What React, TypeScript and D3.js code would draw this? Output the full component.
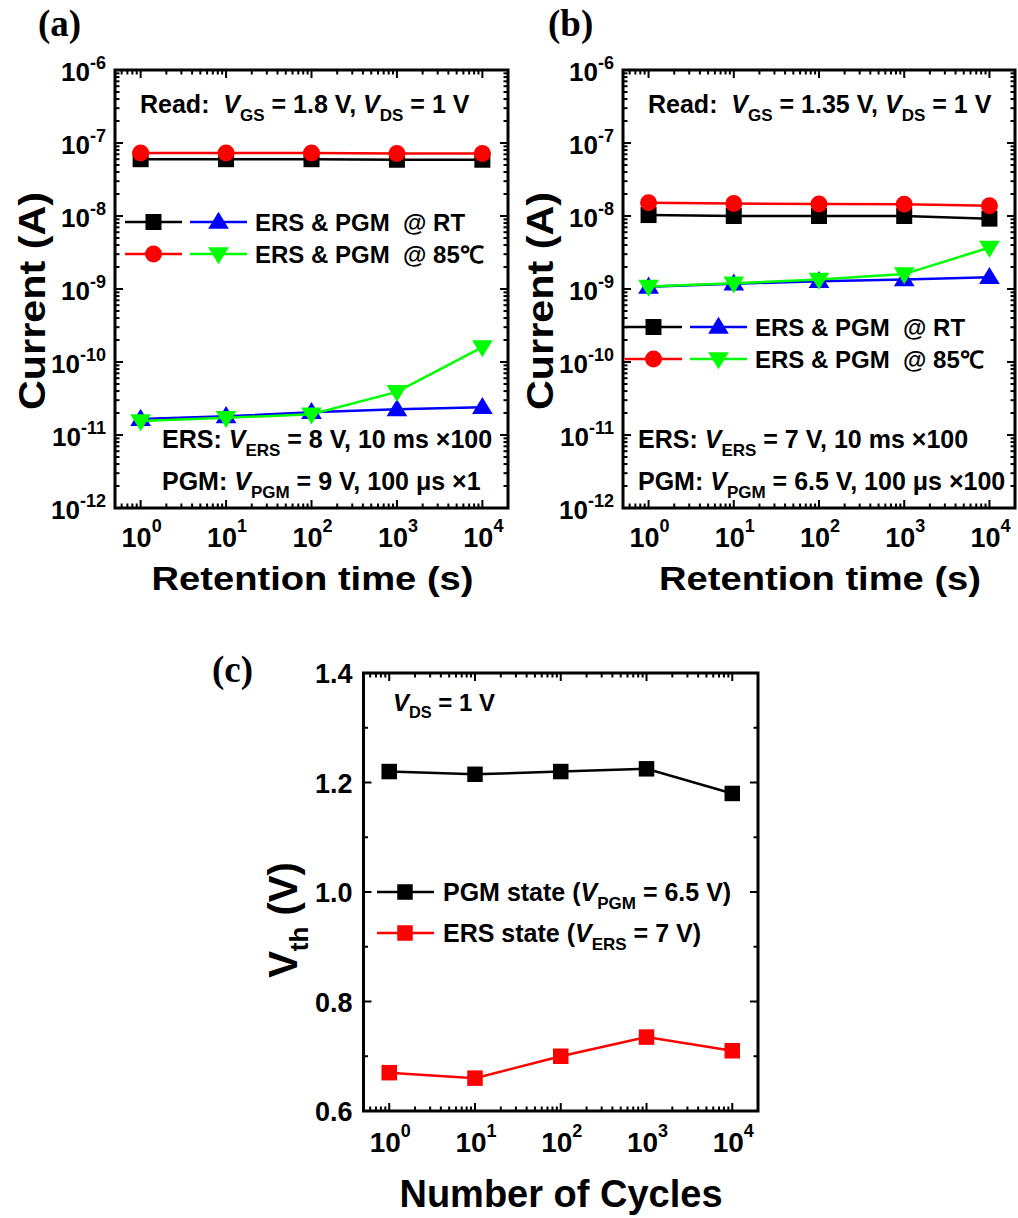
import React from 'react';
import * as d3 from 'd3';

// ---------- data ----------
const retentionTimes = [1, 10, 100, 1000, 10000];
const cycleCounts = [1, 10, 100, 1000, 10000];

const aPgmRT = [6.0e-8, 6.0e-8, 6.0e-8, 5.9e-8, 5.9e-8];
const aPgm85 = [7.3e-8, 7.3e-8, 7.3e-8, 7.2e-8, 7.2e-8];
const aErsRT = [1.65e-11, 1.8e-11, 2.05e-11, 2.25e-11, 2.4e-11];
const aErs85 = [1.55e-11, 1.72e-11, 1.92e-11, 3.9e-11, 1.6e-10];

const bPgmRT = [1.03e-8, 1.0e-8, 1.0e-8, 1.0e-8, 9.2e-9];
const bPgm85 = [1.52e-8, 1.48e-8, 1.46e-8, 1.45e-8, 1.38e-8];
const bErsRT = [1.07e-9, 1.18e-9, 1.28e-9, 1.35e-9, 1.45e-9];
const bErs85 = [1.08e-9, 1.2e-9, 1.35e-9, 1.6e-9, 3.7e-9];

const cPgmVth = [1.22, 1.215, 1.22, 1.225, 1.18];
const cErsVth = [0.67, 0.66, 0.7, 0.735, 0.71];

const xTickExps = [0, 1, 2, 3, 4];
const currentTickExps = [-12, -11, -10, -9, -8, -7, -6];
const vthTicks = [0.6, 0.8, 1.0, 1.2, 1.4];
const vthMinorTicks = [0.7, 0.9, 1.1, 1.3];

const legendLabelRT = 'ERS & PGM  @ RT';
const legendLabel85 = 'ERS & PGM  @ 85\u2103';

const SANS = '"Liberation Sans", Arial, sans-serif';
const SERIF = '"Liberation Serif", "Times New Roman", serif';

type Kind = 'n' | 'i' | 'sub' | 'sup';
type Part = [string, Kind?];

function Rich(props: {
  x: number; y: number; parts: Part[]; size: number; anchor?: string;
  family?: string; transform?: string; textLength?: number; subSize?: number; subShift?: number; supShift?: number;
}) {
  const { x, y, parts, size, anchor = 'start', family = SANS, transform, textLength } = props;
  const subSize = props.subSize ?? size * 0.68;
  const subShift = props.subShift ?? size * 0.3;
  const supShift = props.supShift ?? size * 0.45;
  let shift = 0;
  const spans = parts.map(([t, k = 'n'], i) => {
    const target = k === 'sub' ? subShift : k === 'sup' ? -supShift : 0;
    const dy = target - shift;
    shift = target;
    return (
      <tspan key={i} dy={dy} fontSize={k === 'sub' || k === 'sup' ? subSize : size}
        fontStyle={k === 'i' ? 'italic' : 'normal'}>{t}</tspan>
    );
  });
  return (
    <text x={x} y={y} textAnchor={anchor} fontFamily={family} fontWeight="bold" fontSize={size}
      style={{ whiteSpace: 'pre' }} transform={transform}
      textLength={textLength} lengthAdjust={textLength ? 'spacingAndGlyphs' : undefined}>
      {spans}
    </text>
  );
}

type Shape = 'square' | 'circle' | 'up' | 'down';
function markerPath(shape: Shape, size: number) {
  if (shape === 'square') return d3.symbol(d3.symbolSquare, size * size)()!;
  if (shape === 'circle') return d3.symbol(d3.symbolCircle, Math.PI * (size / 2) ** 2)()!;
  const w = size * 1.15, h = size * 0.95;
  if (shape === 'up') return `M0,${-h * 0.6}L${w / 2},${h * 0.4}L${-w / 2},${h * 0.4}Z`;
  return `M0,${h * 0.6}L${w / 2},${-h * 0.4}L${-w / 2},${-h * 0.4}Z`;
}

type Series = { values: number[]; color: string; shape: Shape; size: number };

function Frame({ x0, x1, y0, y1, xTicks, xMinor, yTicks, yMinor }: any) {
  const els: any[] = [];
  const maj = 8, min = 4.5;
  xTicks.forEach((v: number, i: number) => {
    els.push(<line key={'xb' + i} x1={v} x2={v} y1={y1} y2={y1 - maj} />);
    els.push(<line key={'xt' + i} x1={v} x2={v} y1={y0} y2={y0 + maj} />);
  });
  xMinor.forEach((v: number, i: number) => {
    els.push(<line key={'xmb' + i} x1={v} x2={v} y1={y1} y2={y1 - min} />);
    els.push(<line key={'xmt' + i} x1={v} x2={v} y1={y0} y2={y0 + min} />);
  });
  yTicks.forEach((v: number, i: number) => {
    els.push(<line key={'yl' + i} y1={v} y2={v} x1={x0} x2={x0 + maj} />);
    els.push(<line key={'yr' + i} y1={v} y2={v} x1={x1} x2={x1 - maj} />);
  });
  yMinor.forEach((v: number, i: number) => {
    els.push(<line key={'yml' + i} y1={v} y2={v} x1={x0} x2={x0 + min} />);
    els.push(<line key={'ymr' + i} y1={v} y2={v} x1={x1} x2={x1 - min} />);
  });
  return (
    <g>
      <g stroke="#000" strokeWidth={2}>{els}</g>
      <rect x={x0} y={y0} width={x1 - x0} height={y1 - y0} fill="none" stroke="#000" strokeWidth={3} />
    </g>
  );
}

function SeriesMarks({ series, xs, x, y }: { series: Series[]; xs: number[]; x: any; y: any }) {
  return (
    <g>
      {series.map((s, si) => {
        const line = d3.line<number>().x((_, i) => x(xs[i])).y((v) => y(v));
        return (
          <g key={si}>
            <path d={line(s.values)!} fill="none" stroke={s.color} strokeWidth={2.5} />
            {s.values.map((v, i) => (
              <path key={i} d={markerPath(s.shape, s.size)} fill={s.color}
                transform={`translate(${x(xs[i])},${y(v)})`} />
            ))}
          </g>
        );
      })}
    </g>
  );
}

function LegendRow({ x, y, items, label, size = 24 }: any) {
  return (
    <g>
      {items.map((it: any, i: number) => (
        <g key={i}>
          <line x1={x + it.x1} x2={x + it.x2} y1={y} y2={y} stroke={it.color} strokeWidth={2.5} />
          <path d={markerPath(it.shape, it.size)} fill={it.color} transform={`translate(${x + (it.x1 + it.x2) / 2},${y})`} />
        </g>
      ))}
      <text x={x + items[items.length - 1].x2 + 8} y={y + 8.5} fontFamily={SANS} fontWeight="bold" fontSize={size}
        style={{ whiteSpace: 'pre' }}>{label}</text>
    </g>
  );
}

const logXDomain = [10 ** -0.3, 10 ** 4.3];

function minorLog(lo: number, hi: number, expLo: number, expHi: number) {
  const out: number[] = [];
  for (let k = expLo; k <= expHi; k++) for (let m = 2; m <= 9; m++) {
    const v = m * 10 ** k;
    if (v > lo && v < hi) out.push(v);
  }
  return out;
}

function RetentionPanel({ x0, x1, y0, y1, label, labelX, series, readParts, readX, ersParts, pgmParts, noteX, legendX, legendY }: any) {
  const x = d3.scaleLog().domain(logXDomain).range([x0, x1]);
  const y = d3.scaleLog().domain([1e-12, 1e-6]).range([y1, y0]);
  const xMinor = minorLog(logXDomain[0], logXDomain[1], -1, 4).map(x);
  const yMinor = minorLog(1e-12, 1e-6, -12, -7).map(y);
  return (
    <g>
      <text x={labelX} y={36} fontFamily={SERIF} fontWeight="bold" fontSize={37}>{label}</text>
      <Frame x0={x0} x1={x1} y0={y0} y1={y1}
        xTicks={xTickExps.map((e) => x(10 ** e))} xMinor={xMinor}
        yTicks={currentTickExps.map((e) => y(10 ** e))} yMinor={yMinor} />
      {currentTickExps.map((e) => (
        <Rich key={e} x={x0 - 9} y={y(10 ** e) + 11} size={26} anchor="end" subSize={18} supShift={12}
          parts={[['10'], [String(e), 'sup']]} />
      ))}
      {xTickExps.map((e) => (
        <Rich key={e} x={x(10 ** e) + 1} y={y1 + 39} size={27} anchor="middle" subSize={18} supShift={15}
          parts={[['10'], [String(e), 'sup']]} />
      ))}
      <SeriesMarks series={series} xs={retentionTimes} x={x} y={y} />
      <Rich x={readX} y={113} size={25} parts={readParts} />
      <Rich x={noteX} y={448} size={25} parts={ersParts} />
      <Rich x={noteX} y={490} size={25} parts={pgmParts} />
      <LegendRow x={legendX} y={legendY} label={legendLabelRT}
        items={[{ color: series[0].color, shape: series[0].shape, size: series[0].size, x1: 0, x2: 57 },
        { color: series[2].color, shape: series[2].shape, size: series[2].size, x1: 65, x2: 122 }]} />
      <LegendRow x={legendX} y={legendY + 32} label={legendLabel85}
        items={[{ color: series[1].color, shape: series[1].shape, size: series[1].size, x1: 0, x2: 57 },
        { color: series[3].color, shape: series[3].shape, size: series[3].size, x1: 65, x2: 122 }]} />
      <Rich x={(x0 + x1) / 2 + 1} y={590} size={33} anchor="middle" parts={[['Retention time (s)']]} textLength={322} />
      <Rich x={0} y={0} size={37} anchor="middle" parts={[['Current (A)']]} textLength={218}
        transform={`translate(${x0 - 70},301) rotate(-90)`} />
    </g>
  );
}

export default function App() {
  const aSeries: Series[] = [
    { values: aPgmRT, color: '#000000', shape: 'square', size: 16 },
    { values: aPgm85, color: '#ff0000', shape: 'circle', size: 17 },
    { values: aErsRT, color: '#0000ff', shape: 'up', size: 18 },
    { values: aErs85, color: '#00ff00', shape: 'down', size: 18 },
  ];
  const bSeries: Series[] = [
    { values: bPgmRT, color: '#000000', shape: 'square', size: 16 },
    { values: bPgm85, color: '#ff0000', shape: 'circle', size: 17 },
    { values: bErsRT, color: '#0000ff', shape: 'up', size: 18 },
    { values: bErs85, color: '#00ff00', shape: 'down', size: 18 },
  ];

  // panel c
  const cx0 = 363.5, cx1 = 758, cy0 = 673, cy1 = 1111;
  const cxs = d3.scaleLog().domain(logXDomain).range([cx0, cx1]);
  const cys = d3.scaleLinear().domain([0.6, 1.4]).range([cy1, cy0]);
  const cSeries: Series[] = [
    { values: cPgmVth, color: '#000000', shape: 'square', size: 15.5 },
    { values: cErsVth, color: '#ff0000', shape: 'square', size: 15.5 },
  ];

  return (
    <svg width={1018} height={1218} style={{ position: 'absolute', left: 0, top: 0, background: '#fff' }}>
      <rect width={1018} height={1218} fill="#fff" />
      <RetentionPanel x0={115} x1={508} y0={70} y1={508} label="(a)" labelX={38} series={aSeries}
        readX={140}
        readParts={[['Read:  '], ['V', 'i'], ['GS', 'sub'], [' = 1.8 V, '], ['V', 'i'], ['DS', 'sub'], [' = 1 V']]}
        noteX={162}
        ersParts={[['ERS: '], ['V', 'i'], ['ERS', 'sub'], [' = 8 V, 10 ms \u00d7100']]}
        pgmParts={[['PGM: '], ['V', 'i'], ['PGM', 'sub'], [' = 9 V, 100 \u03bcs \u00d71']]}
        legendX={125} legendY={222} />
      <RetentionPanel x0={623} x1={1015} y0={70} y1={508} label="(b)" labelX={548} series={bSeries}
        readX={648}
        readParts={[['Read:  '], ['V', 'i'], ['GS', 'sub'], [' = 1.35 V, '], ['V', 'i'], ['DS', 'sub'], [' = 1 V']]}
        noteX={638}
        ersParts={[['ERS: '], ['V', 'i'], ['ERS', 'sub'], [' = 7 V, 10 ms \u00d7100']]}
        pgmParts={[['PGM: '], ['V', 'i'], ['PGM', 'sub'], [' = 6.5 V, 100 \u03bcs \u00d7100']]}
        legendX={625} legendY={327} />

      {/* panel c */}
      <text x={212} y={682} fontFamily={SERIF} fontWeight="bold" fontSize={37}>(c)</text>
      <Frame x0={cx0} x1={cx1} y0={cy0} y1={cy1}
        xTicks={xTickExps.map((e) => cxs(10 ** e))}
        xMinor={minorLog(logXDomain[0], logXDomain[1], -1, 4).map(cxs)}
        yTicks={vthTicks.map(cys)} yMinor={vthMinorTicks.map(cys)} />
      {vthTicks.map((v) => (
        <Rich key={v} x={cx0 - 11} y={cys(v) + 10} size={27} anchor="end" parts={[[d3.format('.1f')(v)]]} />
      ))}
      {xTickExps.map((e) => (
        <Rich key={e} x={cxs(10 ** e) + 1} y={1152} size={28} anchor="middle" subSize={18} supShift={15}
          parts={[['10'], [String(e), 'sup']]} />
      ))}
      <SeriesMarks series={cSeries} xs={cycleCounts} x={cxs} y={cys} />
      <Rich x={393} y={711} size={24} parts={[['V', 'i'], ['DS', 'sub'], [' = 1 V']]} />
      <g>
        <line x1={377} x2={434} y1={892} y2={892} stroke="#000" strokeWidth={2.5} />
        <path d={markerPath('square', 15.5)} fill="#000" transform="translate(405,892)" />
        <Rich x={443} y={901} size={25} parts={[['PGM state ('], ['V', 'i'], ['PGM', 'sub'], [' = 6.5 V)']]} />
        <line x1={377} x2={434} y1={933} y2={933} stroke="#ff0000" strokeWidth={2.5} />
        <path d={markerPath('square', 15.5)} fill="#ff0000" transform="translate(405,933)" />
        <Rich x={443} y={942} size={25} parts={[['ERS state ('], ['V', 'i'], ['ERS', 'sub'], [' = 7 V)']]} />
      </g>
      <Rich x={561} y={1207} size={38} anchor="middle" parts={[['Number of Cycles']]} />
      <Rich x={0} y={0} size={40} anchor="middle" subSize={26} subShift={11}
        parts={[['V'], ['th', 'sub'], [' (V)']]}
        transform={`translate(297,${920}) rotate(-90)`} />
    </svg>
  );
}
